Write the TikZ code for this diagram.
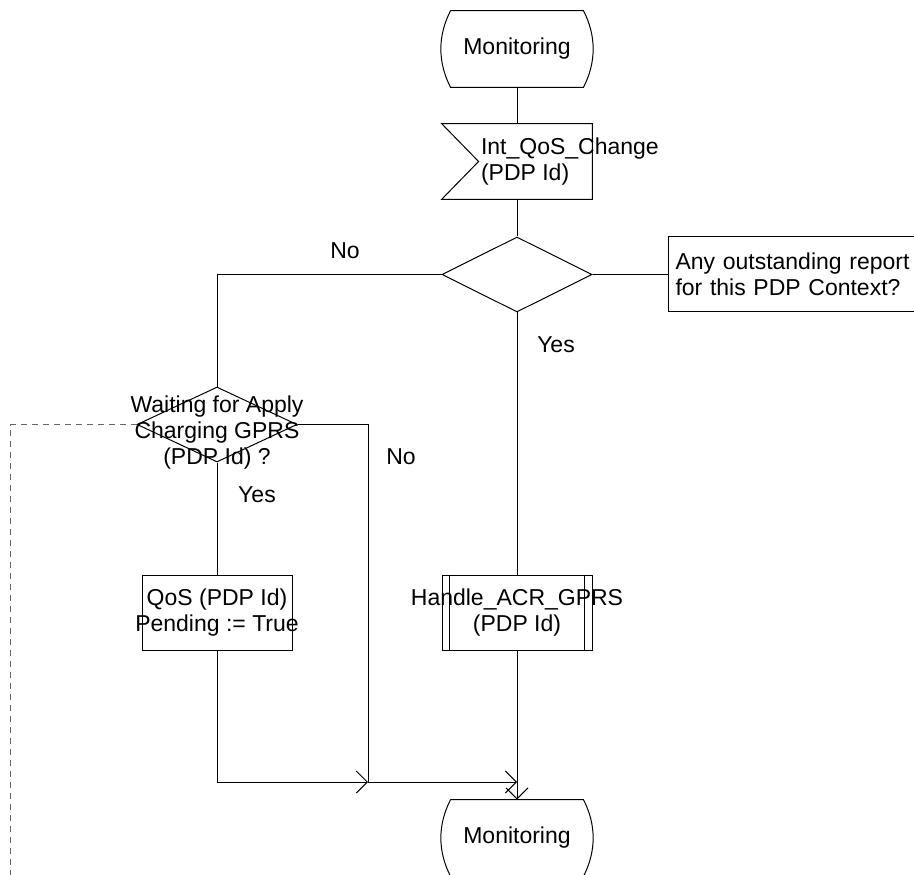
\documentclass[tikz,border=0pt]{standalone}
\usepackage{fontspec}
\setmainfont{Liberation Sans}
\usetikzlibrary{arrows.meta,calc,shapes.geometric}
\tikzset{
  flowline/.style={black, line width=0.5pt},
  flowarrow/.style={flowline, -{Straight Barb[length=5.5pt,width=11pt]}},
  loopline/.style={black!60, line width=0.5pt, dash pattern=on 3pt off 2.5pt},
  statenode/.style={minimum width=75pt, minimum height=38pt, inner sep=0pt},
  signode/.style={minimum width=75pt, minimum height=37.5pt, inner sep=0pt},
  decision/.style={diamond, draw, line width=0.5pt, minimum width=#1,
    minimum height=37.5pt, inner sep=0pt},
  decision/.default=75pt,
  taskbox/.style={draw, line width=0.5pt, minimum width=75pt,
    minimum height=37.5pt, inner sep=0pt, align=center},
  commentbox/.style={draw, line width=0.5pt, minimum height=37.5pt,
    inner xsep=3.5pt, text width=124pt, align=left, anchor=west},
  sdltext/.style={inner sep=0pt}
}
% SDL state symbol: box with bulging left and right sides
\newcommand{\sdlstate}[4]{%
  \node[statenode] (#1) at (#2,#3) {#4};
  \draw[flowline] ($(#1.north west)+(9,0)$) -- ($(#1.north east)+(-9,0)$)
    .. controls +(13,-25) and +(13,25) .. ($(#1.south east)+(-9,0)$)
    -- ($(#1.south west)+(9,0)$)
    .. controls +(-13,25) and +(-13,-25) .. ($(#1.north west)+(9,0)$);
}

\begin{document}
\begin{tikzpicture}[x=0.5pt,y=0.5pt,font=\fontsize{11.5}{13}\selectfont]
  \useasboundingbox (0,0) rectangle (914,874);
  \clip (0,0) rectangle (914,874);

  % States
  \sdlstate{mon1}{517}{825}{Monitoring}
  \sdlstate{mon2}{517}{36}{Monitoring}

  % Input signal
  \node[signode] (sig) at (517,712.5) {};
  \draw[flowline] (sig.north west) -- (sig.north east) -- (sig.south east)
    -- (sig.south west) -- ($(sig.west)+(37,0)$) -- cycle;
  \node[sdltext, anchor=west, align=left] (sigtext) at ($(sig.west)+(39,0)$)
    {Int\_QoS\_Change\\(PDP Id)};

  % Decisions
  \node[decision] (anyrep) at (517,599.5) {};
  \node[commentbox] (comment) at (668,599.5)
    {Any outstanding report\\for this PDP Context?};
  \node[decision=80pt] (wait) at (217,449.5) {};
  \node[sdltext, align=center] (waittext) at ($(wait.center)+(0,-8)$)
    {Waiting for Apply\\Charging GPRS\\(PDP Id) ?};

  % Tasks
  \node[taskbox] (qos) at (217,261.5)
    {QoS (PDP Id)\\\makebox[0pt]{Pending := True}};
  \node[taskbox] (handle) at (517,261.5)
    {\makebox[0pt]{Handle\_ACR\_GPRS}\\(PDP Id)};
  \draw[flowline] ($(handle.north west)+(8,0)$) -- ($(handle.south west)+(8,0)$);
  \draw[flowline] ($(handle.north east)+(-8,0)$) -- ($(handle.south east)+(-8,0)$);

  % Branch labels
  \node[sdltext] (nolbl1) at (345,623) {No};
  \node[sdltext] (yeslbl1) at (556,529) {Yes};
  \node[sdltext] (nolbl2) at (401,417) {No};
  \node[sdltext] (yeslbl2) at (257,379) {Yes};

  % Flow lines
  \coordinate (join) at (368,92);
  \coordinate (merge) at (517,92);
  \coordinate (loopcorner) at (10,449.5);
  \coordinate (loopend) at (10,-5);
  \draw[flowline] (mon1) -- (sig);
  \draw[flowline] (sig) -- (anyrep);
  \draw[flowline] (anyrep.east) -- (comment.west);
  \draw[flowline] (anyrep.west) -| (wait.north);
  \draw[flowline] (anyrep.south) -- (handle.north);
  \draw[flowline] (wait.south) -- (qos.north);
  \draw[flowline] (wait.east) -| (join);
  \draw[flowarrow] (qos.south) |- (join);
  \draw[flowarrow] (join) -- (merge);
  \draw[flowarrow] (handle.south) -- (mon2.north);
  \draw[loopline] (wait.west) -- (loopcorner) -- (loopend);
\end{tikzpicture}
\end{document}
